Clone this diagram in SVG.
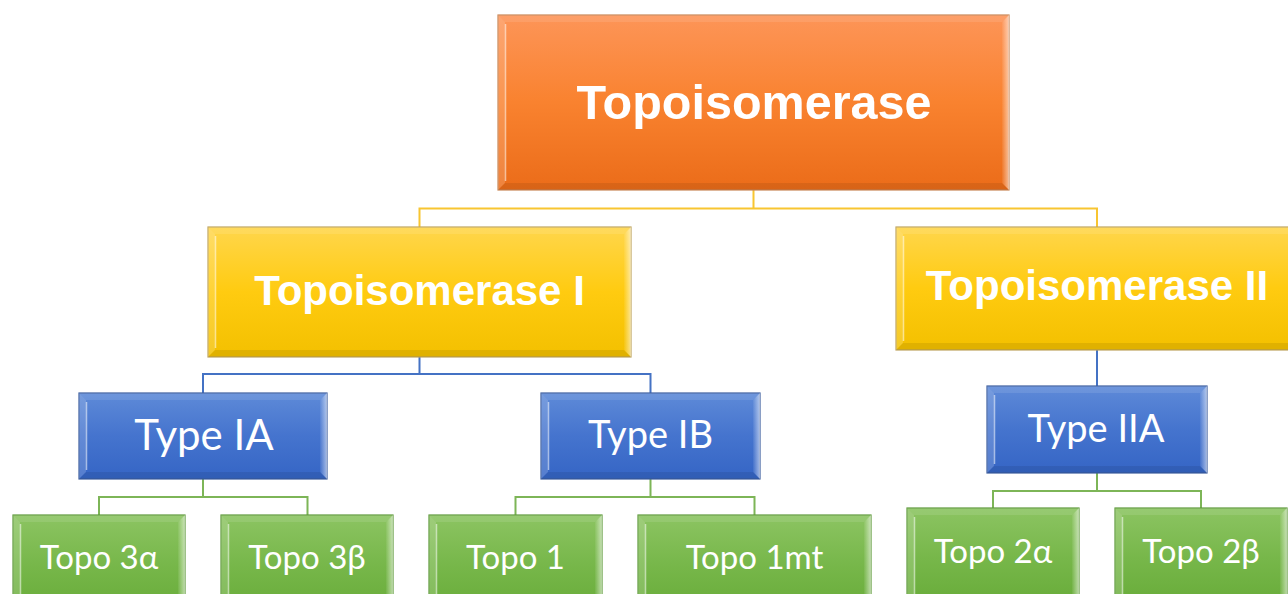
<svg xmlns="http://www.w3.org/2000/svg" width="1288" height="594" viewBox="0 0 1288 594">
  <defs>
    <linearGradient id="gOrange" x1="0" y1="0" x2="0" y2="1">
      <stop offset="0" stop-color="#FD9558"/>
      <stop offset="0.5" stop-color="#F9822F"/>
      <stop offset="1" stop-color="#EB6C19"/>
    </linearGradient>
    <linearGradient id="gYellow" x1="0" y1="0" x2="0" y2="1">
      <stop offset="0" stop-color="#FFD64C"/>
      <stop offset="0.5" stop-color="#FFCB10"/>
      <stop offset="1" stop-color="#F3C000"/>
    </linearGradient>
    <linearGradient id="gBlue" x1="0" y1="0" x2="0" y2="1">
      <stop offset="0" stop-color="#5E8AD8"/>
      <stop offset="0.5" stop-color="#4574CE"/>
      <stop offset="1" stop-color="#3565C5"/>
    </linearGradient>
    <linearGradient id="gGreen" x1="0" y1="0" x2="0" y2="1">
      <stop offset="0" stop-color="#8CC462"/>
      <stop offset="0.5" stop-color="#77B74A"/>
      <stop offset="1" stop-color="#67AB38"/>
    </linearGradient>
    <linearGradient id="gEdgeR" x1="0" y1="0" x2="1" y2="0">
      <stop offset="0" stop-color="#ffffff" stop-opacity="0.05"/>
      <stop offset="1" stop-color="#ffffff" stop-opacity="0.55"/>
    </linearGradient>
  </defs>
  <style>
    .box { stroke-width: 1.2; }
    .orange .box { fill: url(#gOrange); stroke: #C98655; }
    .yellow .box { fill: url(#gYellow); stroke: #BFA45E; }
    .blue .box { fill: url(#gBlue); stroke: #3C5E9E; }
    .green .box { fill: url(#gGreen); stroke: #5E993A; }
    .bl { fill: #ffffff; fill-opacity: 0.16; }
    .bt { fill: #ffffff; fill-opacity: 0.10; }
    .br { fill: url(#gEdgeR); }
    .bb { fill: #000000; fill-opacity: 0.08; }
    .hl { stroke: #ffffff; stroke-opacity: 0.55; stroke-width: 1.5; fill: none; }
    .t1 { font-family: "Liberation Sans", Arial, sans-serif; font-weight: bold; fill: #ffffff; text-anchor: middle; }
    .t2 { font-family: Lato, "Open Sans", sans-serif; fill: #ffffff; text-anchor: middle; }
    .cy { stroke: #F8C531; stroke-width: 2; fill: none; }
    .cb { stroke: #4472C4; stroke-width: 2; fill: none; }
    .cg { stroke: #7DB557; stroke-width: 2; fill: none; }
  </style>

  <!-- connectors -->
  <g id="connectors">
    <path class="cy" d="M753.5,190 V208.5 M419.5,227 V208.5 H1097 V227"/>
    <path class="cb" d="M419.5,357 V374 M203,393 V374 H650.5 V393 M1097,350 V386"/>
    <path class="cg" d="M203,479 V497 M99,515 V497 H307.5 V515"/>
    <path class="cg" d="M650.5,479 V497 M515.5,515 V497 H754.5 V515"/>
    <path class="cg" d="M1097,473 V491 M993,508 V491 H1201 V508"/>
  </g>

  <!-- root -->
  <g id="n-topoisomerase" class="orange">
    <rect class="box" x="498" y="15" width="511" height="175"/>
    <polygon class="bl" points="498,15 505,22 505,183 498,190"/>
    <polygon class="bt" points="498,15 1009,15 1002,22 505,22"/>
    <polygon class="br" points="1009,15 1009,190 1002,183 1002,22"/>
    <polygon class="bb" points="498,190 1009,190 1002,183 505,183"/>
    <line class="hl" x1="505.5" y1="24" x2="505.5" y2="181"/>
    <text class="t1" x="754" y="119" font-size="48.5">Topoisomerase</text>
  </g>

  <!-- second level -->
  <g id="n-topo-i" class="yellow">
    <rect class="box" x="208" y="227" width="423" height="130"/>
    <polygon class="bl" points="208,227 215,234 215,350 208,357"/>
    <polygon class="bt" points="208,227 631,227 624,234 215,234"/>
    <polygon class="br" points="631,227 631,357 624,350 624,234"/>
    <polygon class="bb" points="208,357 631,357 624,350 215,350"/>
    <line class="hl" x1="215.5" y1="236" x2="215.5" y2="348"/>
    <text class="t1" x="419.5" y="305" font-size="42">Topoisomerase I</text>
  </g>

  <g id="n-topo-ii" class="yellow">
    <rect class="box" x="896" y="227" width="402" height="123"/>
    <polygon class="bl" points="896,227 903,234 903,343 896,350"/>
    <polygon class="bt" points="896,227 1298,227 1291,234 903,234"/>
    <polygon class="bb" points="896,350 1298,350 1291,343 903,343"/>
    <line class="hl" x1="903.5" y1="236" x2="903.5" y2="341"/>
    <text class="t1" x="1097" y="300" font-size="42">Topoisomerase II</text>
  </g>

  <!-- third level -->
  <g id="n-type-ia" class="blue">
    <rect class="box" x="79" y="393" width="248" height="86"/>
    <polygon class="bl" points="79,393 86,400 86,472 79,479"/>
    <polygon class="bt" points="79,393 327,393 320,400 86,400"/>
    <polygon class="br" points="327,393 327,479 320,472 320,400"/>
    <polygon class="bb" points="79,479 327,479 320,472 86,472"/>
    <line class="hl" x1="86.5" y1="402" x2="86.5" y2="470"/>
    <text class="t2" x="204" y="450" font-size="42">Type IA</text>
  </g>

  <g id="n-type-ib" class="blue">
    <rect class="box" x="541" y="393" width="219" height="86"/>
    <polygon class="bl" points="541,393 548,400 548,472 541,479"/>
    <polygon class="bt" points="541,393 760,393 753,400 548,400"/>
    <polygon class="br" points="760,393 760,479 753,472 753,400"/>
    <polygon class="bb" points="541,479 760,479 753,472 548,472"/>
    <line class="hl" x1="548.5" y1="402" x2="548.5" y2="470"/>
    <text class="t2" x="650.5" y="448" font-size="38">Type IB</text>
  </g>

  <g id="n-type-iia" class="blue">
    <rect class="box" x="987" y="386" width="220" height="87"/>
    <polygon class="bl" points="987,386 994,393 994,466 987,473"/>
    <polygon class="bt" points="987,386 1207,386 1200,393 994,393"/>
    <polygon class="br" points="1207,386 1207,473 1200,466 1200,393"/>
    <polygon class="bb" points="987,473 1207,473 1200,466 994,466"/>
    <line class="hl" x1="994.5" y1="395" x2="994.5" y2="464"/>
    <text class="t2" x="1096" y="442" font-size="38">Type IIA</text>
  </g>

  <!-- leaves -->
  <g id="n-topo-3a" class="green">
    <rect class="box" x="13" y="515" width="172" height="100"/>
    <polygon class="bl" points="13,515 20,522 20,615 13,615"/>
    <polygon class="bt" points="13,515 185,515 178,522 20,522"/>
    <polygon class="br" points="185,515 185,615 178,615 178,522"/>
    <line class="hl" x1="20.5" y1="524" x2="20.5" y2="594"/>
    <text class="t2" x="99" y="569" font-size="33">Topo 3α</text>
  </g>

  <g id="n-topo-3b" class="green">
    <rect class="box" x="221" y="515" width="172" height="100"/>
    <polygon class="bl" points="221,515 228,522 228,615 221,615"/>
    <polygon class="bt" points="221,515 393,515 386,522 228,522"/>
    <polygon class="br" points="393,515 393,615 386,615 386,522"/>
    <line class="hl" x1="228.5" y1="524" x2="228.5" y2="594"/>
    <text class="t2" x="307" y="569" font-size="33">Topo 3β</text>
  </g>

  <g id="n-topo-1" class="green">
    <rect class="box" x="429" y="515" width="173" height="100"/>
    <polygon class="bl" points="429,515 436,522 436,615 429,615"/>
    <polygon class="bt" points="429,515 602,515 595,522 436,522"/>
    <polygon class="br" points="602,515 602,615 595,615 595,522"/>
    <line class="hl" x1="436.5" y1="524" x2="436.5" y2="594"/>
    <text class="t2" x="515.5" y="569" font-size="33">Topo 1</text>
  </g>

  <g id="n-topo-1mt" class="green">
    <rect class="box" x="638" y="515" width="233" height="100"/>
    <polygon class="bl" points="638,515 645,522 645,615 638,615"/>
    <polygon class="bt" points="638,515 871,515 864,522 645,522"/>
    <polygon class="br" points="871,515 871,615 864,615 864,522"/>
    <line class="hl" x1="645.5" y1="524" x2="645.5" y2="594"/>
    <text class="t2" x="754.5" y="569" font-size="33">Topo 1mt</text>
  </g>

  <g id="n-topo-2a" class="green">
    <rect class="box" x="907" y="508" width="172" height="100"/>
    <polygon class="bl" points="907,508 914,515 914,608 907,608"/>
    <polygon class="bt" points="907,508 1079,508 1072,515 914,515"/>
    <polygon class="br" points="1079,508 1079,608 1072,608 1072,515"/>
    <line class="hl" x1="914.5" y1="517" x2="914.5" y2="594"/>
    <text class="t2" x="993" y="563" font-size="33">Topo 2α</text>
  </g>

  <g id="n-topo-2b" class="green">
    <rect class="box" x="1115" y="508" width="172" height="100"/>
    <polygon class="bl" points="1115,508 1122,515 1122,608 1115,608"/>
    <polygon class="bt" points="1115,508 1287,508 1280,515 1122,515"/>
    <polygon class="br" points="1287,508 1287,608 1280,608 1280,515"/>
    <line class="hl" x1="1122.5" y1="517" x2="1122.5" y2="594"/>
    <text class="t2" x="1201" y="563" font-size="33">Topo 2β</text>
  </g>
</svg>
